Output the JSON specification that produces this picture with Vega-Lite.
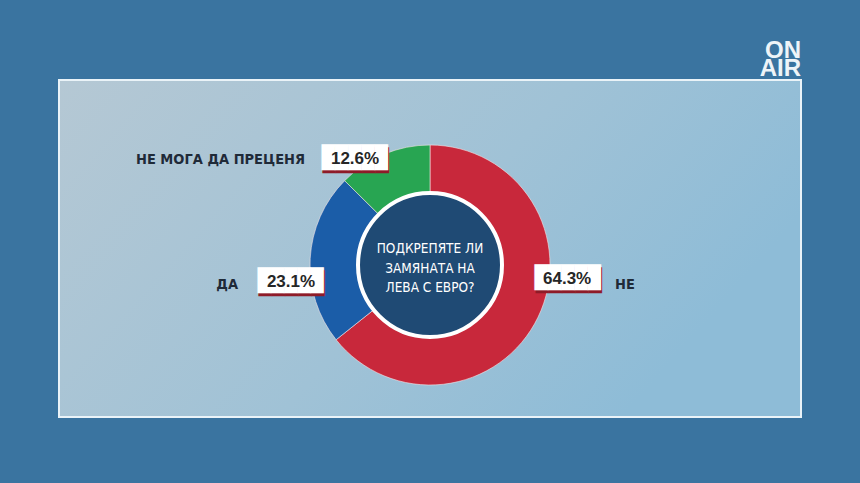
{
  "$schema": "https://vega.github.io/schema/vega-lite/v6.json",
  "autosize": {"type": "none"},
  "width": 742,
  "height": 337,
  "padding": {"left": 59, "top": 80, "right": 59, "bottom": 66},
  "background": "#3a74a0",
  "title": {
    "text": ["ON", "AIR"],
    "anchor": "end",
    "orient": "top",
    "offset": 4,
    "dy": 8,
    "dx": -1,
    "font": "Liberation Sans",
    "fontSize": 24,
    "fontWeight": "bold",
    "lineHeight": 18,
    "color": "#eef4f8"
  },
  "data": {"values": [
    {"answer": "НЕ", "value": 64.3, "label": "64.3%"},
    {"answer": "ДА", "value": 23.1, "label": "23.1%"},
    {"answer": "НЕ МОГА ДА ПРЕЦЕНЯ", "value": 12.6, "label": "12.6%"}
  ]},
  "layer": [
    {
      "data": {"values": [{"panel": "background"}]},
      "mark": {"type": "rect", "stroke": "#eaf3f8", "strokeWidth": 2,
        "fill": {"gradient": "linear", "x1": 0, "y1": 0, "x2": 1, "y2": 0.4,
          "stops": [{"offset": 0, "color": "#b5c8d4"}, {"offset": 0.6, "color": "#a0c2d6"}, {"offset": 1, "color": "#8ebcd7"}]}},
      "encoding": {}
    },
    {
      "mark": {"type": "arc", "radius": 120, "radius2": 72, "yOffset": 16.5, "stroke": "#f4e4e6", "strokeWidth": 1, "strokeOpacity": 0.6},
      "encoding": {
        "theta": {"field": "value", "type": "quantitative", "stack": true},
        "order": {"field": "value", "sort": "descending"},
        "color": {"field": "answer", "type": "nominal", "legend": null,
          "scale": {"domain": ["НЕ", "ДА", "НЕ МОГА ДА ПРЕЦЕНЯ"], "range": ["#c8283b", "#1b5da8", "#28a552"]}}
      }
    },
    {
      "data": {"values": [{"question": "ПОДКРЕПЯТЕ ЛИ\nЗАМЯНАТА НА\nЛЕВА С ЕВРО?"}]},
      "mark": {"type": "arc", "theta": 0, "theta2": 6.2832, "radius": 72, "yOffset": 16.5, "fill": "#1f4a74", "stroke": "#ffffff", "strokeWidth": 4},
      "encoding": {}
    },
    {
      "data": {"values": [{"question": "ПОДКРЕПЯТЕ ЛИ\nЗАМЯНАТА НА\nЛЕВА С ЕВРО?"}]},
      "mark": {"type": "text", "lineBreak": "\n", "align": "center", "baseline": "middle", "dy": 0.5, "font": "Liberation Sans Narrow, DejaVu Sans Condensed, sans-serif", "fontSize": 13.5, "lineHeight": 19.5, "color": "#ffffff"},
      "encoding": {"text": {"field": "question"}}
    },
    {
      "mark": {"type": "text", "radius": 140, "dx": -20.5, "dy": 41.6, "font": "DejaVu Sans Mono", "fontSize": 22, "align": "center", "baseline": "middle", "color": "#8e1b28"},
      "encoding": {
        "theta": {"field": "value", "type": "quantitative", "stack": true},
        "order": {"field": "value", "sort": "descending"},
        "detail": {"field": "answer"},
        "text": {"condition": {"test": "datum.answer === 'НЕ МОГА ДА ПРЕЦЕНЯ'", "value": "█████"}, "value": ""}
      }
    },
    {
      "mark": {"type": "text", "radius": 140, "dx": 1.3, "dy": 43, "font": "DejaVu Sans Mono", "fontSize": 22, "align": "center", "baseline": "middle", "color": "#8e1b28"},
      "encoding": {
        "theta": {"field": "value", "type": "quantitative", "stack": true},
        "order": {"field": "value", "sort": "descending"},
        "detail": {"field": "answer"},
        "text": {"condition": {"test": "datum.answer === 'ДА'", "value": "█████"}, "value": ""}
      }
    },
    {
      "mark": {"type": "text", "radius": 140, "dx": 12.5, "dy": -28.3, "font": "DejaVu Sans Mono", "fontSize": 22, "align": "center", "baseline": "middle", "color": "#8e1b28"},
      "encoding": {
        "theta": {"field": "value", "type": "quantitative", "stack": true},
        "order": {"field": "value", "sort": "descending"},
        "detail": {"field": "answer"},
        "text": {"condition": {"test": "datum.answer === 'НЕ'", "value": "█████"}, "value": ""}
      }
    },
    {
      "mark": {"type": "text", "radius": 140, "dx": -21.5, "dy": 38.6, "font": "DejaVu Sans Mono", "fontSize": 22, "align": "center", "baseline": "middle", "color": "#ffffff"},
      "encoding": {
        "theta": {"field": "value", "type": "quantitative", "stack": true},
        "order": {"field": "value", "sort": "descending"},
        "detail": {"field": "answer"},
        "text": {"condition": {"test": "datum.answer === 'НЕ МОГА ДА ПРЕЦЕНЯ'", "value": "█████"}, "value": ""}
      }
    },
    {
      "mark": {"type": "text", "radius": 140, "dx": 0.3, "dy": 40, "font": "DejaVu Sans Mono", "fontSize": 22, "align": "center", "baseline": "middle", "color": "#ffffff"},
      "encoding": {
        "theta": {"field": "value", "type": "quantitative", "stack": true},
        "order": {"field": "value", "sort": "descending"},
        "detail": {"field": "answer"},
        "text": {"condition": {"test": "datum.answer === 'ДА'", "value": "█████"}, "value": ""}
      }
    },
    {
      "mark": {"type": "text", "radius": 140, "dx": 11.5, "dy": -31.3, "font": "DejaVu Sans Mono", "fontSize": 22, "align": "center", "baseline": "middle", "color": "#ffffff"},
      "encoding": {
        "theta": {"field": "value", "type": "quantitative", "stack": true},
        "order": {"field": "value", "sort": "descending"},
        "detail": {"field": "answer"},
        "text": {"condition": {"test": "datum.answer === 'НЕ'", "value": "█████"}, "value": ""}
      }
    },
    {
      "mark": {"type": "text", "radius": 140, "dx": -21, "dy": 39.6, "font": "Liberation Sans", "fontSize": 17, "fontWeight": "bold", "align": "center", "baseline": "middle", "color": "#262626"},
      "encoding": {
        "theta": {"field": "value", "type": "quantitative", "stack": true},
        "order": {"field": "value", "sort": "descending"},
        "detail": {"field": "answer"},
        "text": {"condition": {"test": "datum.answer === 'НЕ МОГА ДА ПРЕЦЕНЯ'", "field": "label"}, "value": ""}
      }
    },
    {
      "mark": {"type": "text", "radius": 140, "dx": 0.8, "dy": 41, "font": "Liberation Sans", "fontSize": 17, "fontWeight": "bold", "align": "center", "baseline": "middle", "color": "#262626"},
      "encoding": {
        "theta": {"field": "value", "type": "quantitative", "stack": true},
        "order": {"field": "value", "sort": "descending"},
        "detail": {"field": "answer"},
        "text": {"condition": {"test": "datum.answer === 'ДА'", "field": "label"}, "value": ""}
      }
    },
    {
      "mark": {"type": "text", "radius": 140, "dx": 11, "dy": -30.3, "font": "Liberation Sans", "fontSize": 17, "fontWeight": "bold", "align": "center", "baseline": "middle", "color": "#262626"},
      "encoding": {
        "theta": {"field": "value", "type": "quantitative", "stack": true},
        "order": {"field": "value", "sort": "descending"},
        "detail": {"field": "answer"},
        "text": {"condition": {"test": "datum.answer === 'НЕ'", "field": "label"}, "value": ""}
      }
    },
    {
      "mark": {"type": "text", "radius": 140, "dx": -71, "dy": 40.6, "font": "Liberation Sans Narrow, DejaVu Sans Condensed, sans-serif", "fontSize": 14.5, "fontWeight": "bold", "align": "right", "baseline": "middle", "color": "#1f2a38"},
      "encoding": {
        "theta": {"field": "value", "type": "quantitative", "stack": true},
        "order": {"field": "value", "sort": "descending"},
        "detail": {"field": "answer"},
        "text": {"condition": {"test": "datum.answer === 'НЕ МОГА ДА ПРЕЦЕНЯ'", "field": "answer"}, "value": ""}
      }
    },
    {
      "mark": {"type": "text", "radius": 140, "dx": -52.2, "dy": 44, "font": "Liberation Sans Narrow, DejaVu Sans Condensed, sans-serif", "fontSize": 14.5, "fontWeight": "bold", "align": "right", "baseline": "middle", "color": "#1f2a38"},
      "encoding": {
        "theta": {"field": "value", "type": "quantitative", "stack": true},
        "order": {"field": "value", "sort": "descending"},
        "detail": {"field": "answer"},
        "text": {"condition": {"test": "datum.answer === 'ДА'", "field": "answer"}, "value": ""}
      }
    },
    {
      "mark": {"type": "text", "radius": 140, "dx": 59, "dy": -24.3, "font": "Liberation Sans Narrow, DejaVu Sans Condensed, sans-serif", "fontSize": 14.5, "fontWeight": "bold", "align": "left", "baseline": "middle", "color": "#1f2a38"},
      "encoding": {
        "theta": {"field": "value", "type": "quantitative", "stack": true},
        "order": {"field": "value", "sort": "descending"},
        "detail": {"field": "answer"},
        "text": {"condition": {"test": "datum.answer === 'НЕ'", "field": "answer"}, "value": ""}
      }
    }
  ]
}
